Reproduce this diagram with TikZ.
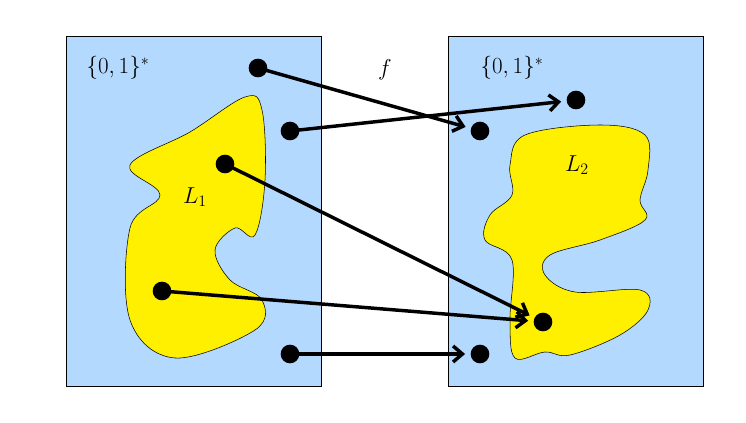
\documentclass[tikz,border=0pt]{standalone}
\usetikzlibrary{arrows.meta}
\begin{document}
\begin{tikzpicture}[x=0.75pt,y=-0.75pt,
  box/.style={draw=black,fill={rgb,255:red,179;green,217;blue,255},line width=0.5pt},
  blob/.style={draw=black,fill={rgb,255:red,255;green,240;blue,0},line width=0.4pt},
  dot/.style={circle,fill=black,inner sep=0pt,minimum size=14pt},
  arr/.style={line width=2.6pt,-{Straight Barb[length=7pt,width=12pt]},shorten >=4pt},
  lab/.style={font=\sffamily\LARGE}]
\useasboundingbox (0,0) rectangle (746,423);
\draw[box] (66,36) rectangle (321,386);
\draw[box] (448,36) rectangle (703,386);
\draw[blob] plot[smooth cycle,tension=0.6] coordinates {(130,228) (160,195) (130,165) (190,132) (245,97) (262,110) (265,180) (255,235) (235,228) (215,250) (230,280) (262,300) (255,330) (175,358) (130,320)};
\draw[blob] plot[smooth cycle,tension=0.6] coordinates {(512,195) (510,165) (525,135) (600,125) (645,135) (648,170) (640,200) (645,220) (600,240) (550,255) (545,275) (575,292) (640,290) (648,310) (620,335) (570,355) (545,352) (515,358) (510,320) (512,260) (485,240) (490,215)};
\node[lab] (s1) at (118,68) {$\{0,1\}^*$};
\node[lab] (s2) at (512,68) {$\{0,1\}^*$};
\node[lab] (f) at (385,70) {$f$};
\node[lab] (L1) at (195,197) {$L_1$};
\node[lab] (L2) at (577,165) {$L_2$};
\node[dot] (a1) at (258,68) {};
\node[dot] (a2) at (290,131) {};
\node[dot] (a3) at (225,164) {};
\node[dot] (a4) at (162,291) {};
\node[dot] (a5) at (290,354) {};
\node[dot] (b1) at (480,131) {};
\node[dot] (b2) at (576,100) {};
\node[dot] (b3) at (543,322) {};
\node[dot] (b4) at (480,354) {};
\draw[arr] (a1.center) -- (b1);
\draw[arr] (a2.center) -- (b2);
\draw[arr] (a3.center) -- (b3);
\draw[arr] (a4.center) -- (b3);
\draw[arr] (a5.center) -- (b4);
\end{tikzpicture}
\end{document}
